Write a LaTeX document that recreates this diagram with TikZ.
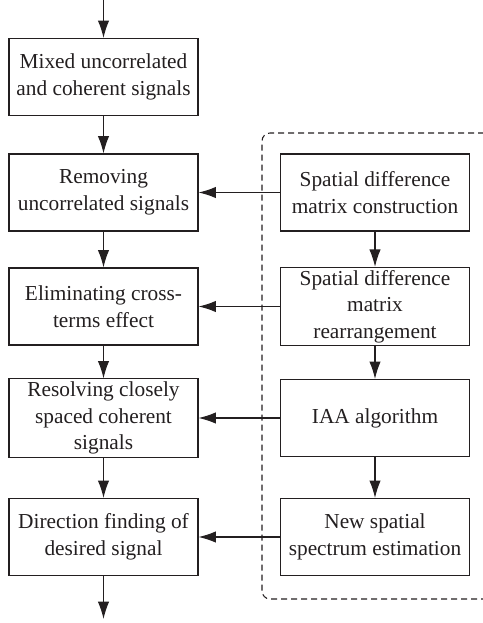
\documentclass[tikz,border=0pt]{standalone}
\usepackage{fontspec}
\setmainfont{Liberation Serif}
\usetikzlibrary{arrows.meta}
\definecolor{lineblack}{RGB}{35,31,32}

\begin{document}
\begin{tikzpicture}[x=0.75pt, y=-0.75pt]

        % --- Styles ---
        \tikzset{
            stepbox/.style={draw=lineblack, line width=0.8pt, align=center, text=lineblack,
                font=\fontsize{16}{20}\selectfont, minimum width=141.75pt, minimum height=57.75pt, inner sep=2pt},
            flow/.style={-{Latex[length=13pt,width=8.5pt]}, line width=0.8pt, lineblack},
            group/.style={lineblack, line width=0.8pt, dash pattern=on 4.5pt off 3pt, rounded corners=6pt}
        }

        \useasboundingbox (0,0) rectangle (482,623);

        % --- Left column: main processing chain ---
        \node[stepbox] (mix) at (103.5,77) {Mixed uncorrelated\\and coherent signals};
        \node[stepbox] (remove) at (103.5,192.5) {Removing\\uncorrelated signals};
        \node[stepbox] (elim) at (103.5,306.5) {Eliminating cross-\\terms effect};
        \node[stepbox] (resolve) at (103.5,418) {Resolving closely\\spaced coherent\\signals};
        \node[stepbox] (doa) at (103.5,537) {Direction finding of\\desired signal};

        % --- Right column: proposed method ---
        \node[stepbox] (sdc) at (375,192.5) {Spatial difference\\matrix construction};
        \node[stepbox] (sdr) at (375,306.5) {Spatial difference\\matrix\\rearrangement};
        \node[stepbox] (iaa) at (375,418) {IAA algorithm};
        \node[stepbox] (nse) at (375,537) {New spatial\\spectrum estimation};

        % --- Input / output ---
        \coordinate (input) at (103.5,0);
        \coordinate (output) at (103.5,619);

        % --- Vertical arrows ---
        \draw[flow] (input) -- (mix);
        \draw[flow] (mix) -- (remove);
        \draw[flow] (remove) -- (elim);
        \draw[flow] (elim) -- (resolve);
        \draw[flow] (resolve) -- (doa);
        \draw[flow] (doa) -- (output);

        \draw[flow] (sdc) -- (sdr);
        \draw[flow] (sdr) -- (iaa);
        \draw[flow] (iaa) -- (nse);

        % --- Horizontal arrows ---
        \draw[flow] (sdc) -- (remove);
        \draw[flow] (sdr) -- (elim);
        \draw[flow] (iaa) -- (resolve);
        \draw[flow] (nse) -- (doa);

        % --- Dashed group (open on the right) ---
        \draw[group] (484,133) -- (262,133) -- (262,599) -- (484,599);

    \end{tikzpicture}
\end{document}
